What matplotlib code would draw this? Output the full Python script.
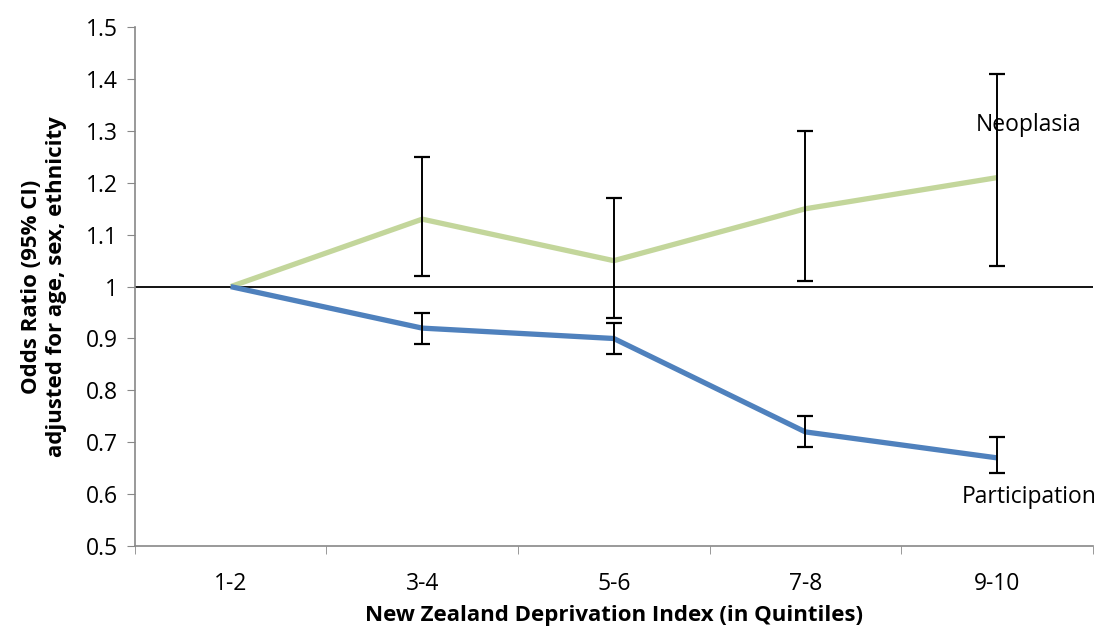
import matplotlib.pyplot as plt
import numpy as np

plt.rcParams['font.family'] = ['Open Sans', 'DejaVu Sans']

quintiles = ['1-2', '3-4', '5-6', '7-8', '9-10']

neoplasia = [1.00, 1.13, 1.05, 1.15, 1.21]
neoplasia_lo = [np.nan, 1.02, 0.94, 1.01, 1.04]
neoplasia_hi = [np.nan, 1.25, 1.17, 1.30, 1.41]

participation = [1.00, 0.92, 0.90, 0.72, 0.67]
participation_lo = [np.nan, 0.89, 0.87, 0.69, 0.64]
participation_hi = [np.nan, 0.95, 0.93, 0.75, 0.71]

x = np.arange(len(quintiles))

fig = plt.figure(figsize=(10.97, 6.32), dpi=100)
ax = fig.add_axes([0.123, 0.136, 0.873, 0.821])

ax.axhline(1.0, color='black', lw=1.3, zorder=1)

ax.plot(x, neoplasia, color='#C3D69B', lw=3.8, solid_capstyle='butt', zorder=2)
ax.plot(x, participation, color='#4F81BD', lw=3.8, solid_capstyle='butt', zorder=2)

for vals, lo, hi in [(neoplasia, neoplasia_lo, neoplasia_hi),
                     (participation, participation_lo, participation_hi)]:
    v = np.array(vals)
    err = [v - np.array(lo), np.array(hi) - v]
    ax.errorbar(x, v, yerr=err, fmt='none', ecolor='black', elinewidth=1.4,
                capsize=6, capthick=1.6, zorder=3)

ax.text(4.165, 1.311, 'Neoplasia', fontsize=16.5, ha='center', va='center')
ax.text(4.17, 0.595, 'Participation', fontsize=16.5, ha='center', va='center')

ax.set_xlim(-0.5, 4.5)
ax.set_ylim(0.5, 1.5)
ax.set_yticks(np.arange(0.5, 1.51, 0.1))
ax.set_yticklabels(['0.5', '0.6', '0.7', '0.8', '0.9', '1', '1.1', '1.2', '1.3', '1.4', '1.5'])
ax.set_xticks(x)
ax.set_xticklabels(quintiles)
ax.set_xticks(np.arange(-0.5, 4.6, 1), minor=True)
ax.tick_params(axis='x', which='major', length=0, pad=19, labelsize=16.5)
ax.tick_params(axis='x', which='minor', length=6, color='#888888', direction='out')
ax.tick_params(axis='y', length=6, color='#888888', labelsize=16.5, pad=6)

for side in ['top', 'right']:
    ax.spines[side].set_visible(False)
for side in ['left', 'bottom']:
    ax.spines[side].set_color('#888888')
    ax.spines[side].set_linewidth(1.2)

ax.set_xlabel('New Zealand Deprivation Index (in Quintiles)', fontsize=16,
              fontweight='bold', labelpad=6)
ax.set_ylabel('Odds Ratio (95% CI)\nadjusted for age, sex, ethnicity', fontsize=16,
              fontweight='bold', labelpad=14)

fig.savefig('out.png', dpi=100)
